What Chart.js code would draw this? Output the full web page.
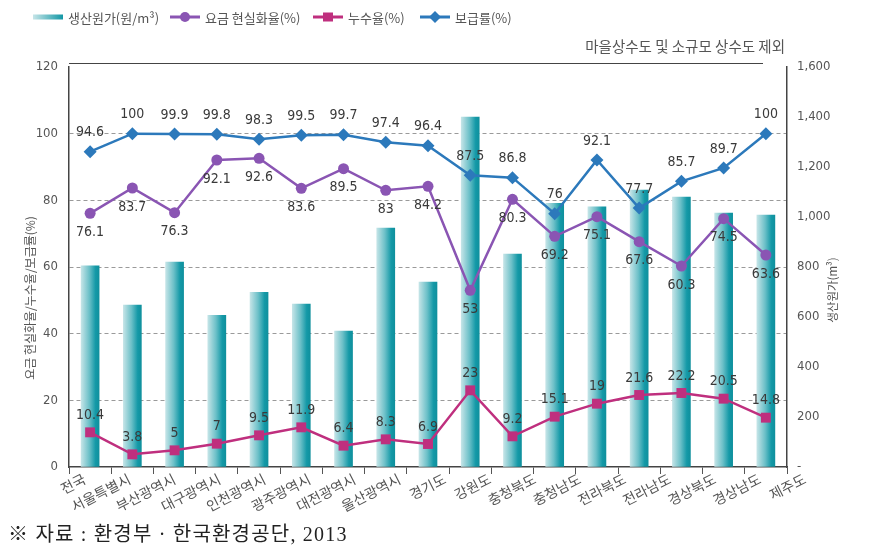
<!DOCTYPE html>
<html><head><meta charset="utf-8">
<script src="https://cdn.jsdelivr.net/npm/chart.js@4.4.1/dist/chart.umd.min.js"></script>
<style>
html,body{margin:0;padding:0;background:#fff;}
#wrap{position:relative;width:871px;height:556px;overflow:hidden;background:#fff;}
#c{position:absolute;left:0;top:0;}
.leg{position:absolute;top:8px;height:18px;display:flex;align-items:center;font:13px 'Noto Sans CJK KR',sans-serif;color:#555;white-space:nowrap;}
.leg svg{margin-right:5px;}
#note{position:absolute;right:86px;top:35px;font:14.5px 'Noto Sans CJK KR',sans-serif;color:#555;white-space:nowrap;}
#src{position:absolute;left:8px;top:518px;font:20px 'Liberation Serif','Noto Sans CJK KR',serif;letter-spacing:1.2px;color:#222;white-space:nowrap;}
</style></head>
<body>
<div id="wrap">
<canvas id="c" width="871" height="556"></canvas>
<div id="legend"></div>
<div id="note">마을상수도 및 소규모 상수도 제외</div>
<div id="src">※ 자료 : 환경부 · 한국환경공단, 2013</div>
</div>
<script>
// ---- data ----
const categories = ['전국','서울특별시','부산광역시','대구광역시','인천광역시','광주광역시','대전광역시','울산광역시','경기도','강원도','충청북도','충청남도','전라북도','전라남도','경상북도','경상남도','제주도'];
const productionCost = [805,648,820,607,699,652,544,956,740,1400,852,1055,1041,1108,1080,1016,1008];
const costRecovery = [76.1,83.7,76.3,92.1,92.6,83.6,89.5,83,84.2,53,80.3,69.2,75.1,67.6,60.3,74.5,63.6];
const leakage = [10.4,3.8,5,7,9.5,11.9,6.4,8.3,6.9,23,9.2,15.1,19,21.6,22.2,20.5,14.8];
const supply = [94.6,100,99.9,99.8,98.3,99.5,99.7,97.4,96.4,87.5,86.8,76,92.1,77.7,85.7,89.7,100];
const leftTicks = [0,20,40,60,80,100,120];
const rightTicks = [0,200,400,600,800,1000,1200,1400,1600];
const seriesNames = ['생산원가(원/m³)','요금 현실화율(%)','누수율(%)','보급률(%)'];
const leftTitle = '요금 현실화율/누수율/보급률(%)';
const rightTitle = '생산원가(m³)';

// ---- styles ----
const C_BLUE = '#2c79bb', C_PURPLE = '#8a55b3', C_PINK = '#bf2f7e';
const BAR_W = 18;

// ---- HTML legend ----
(function(){
  const L = document.getElementById('legend');
  const lefts = [33,170,313,420];
  const syms = [
    `<svg width="30" height="8"><defs><linearGradient id="lg" x1="0" x2="1"><stop offset="0" stop-color="#c6e5e8"/><stop offset="1" stop-color="#1297a5"/></linearGradient></defs><rect x="0" y="1.5" width="30" height="5" fill="url(#lg)"/></svg>`,
    `<svg width="30" height="12"><line x1="0" y1="6" x2="30" y2="6" stroke="${C_PURPLE}" stroke-width="3"/><circle cx="15" cy="6" r="5" fill="${C_PURPLE}"/></svg>`,
    `<svg width="30" height="12"><line x1="0" y1="6" x2="30" y2="6" stroke="${C_PINK}" stroke-width="3"/><rect x="10" y="1.5" width="10" height="9" fill="${C_PINK}"/></svg>`,
    `<svg width="30" height="12"><line x1="0" y1="6" x2="30" y2="6" stroke="${C_BLUE}" stroke-width="3"/><polygon points="15,0 21,6 15,12 9,6" fill="${C_BLUE}"/></svg>`
  ];
  seriesNames.forEach((n,i)=>{
    const d=document.createElement('div'); d.className='leg'; d.style.left=lefts[i]+'px';
    d.innerHTML = syms[i] + '<span>'+n+'</span>';
    L.appendChild(d);
  });
})();

const NUM_FONT = "'DejaVu Sans Condensed','DejaVu Sans',sans-serif";

function barGradient(ctx, x, w){
  const g = ctx.createLinearGradient(x-w/2,0,x+w/2,0);
  g.addColorStop(0,'#c4e4e7'); g.addColorStop(0.45,'#6cc0c8'); g.addColorStop(0.8,'#1499a7'); g.addColorStop(1,'#0f909d');
  return g;
}

const gradPlugin = {
  id:'grad',
  beforeDatasetsDraw(chart){
    chart.data.datasets.forEach((ds,i)=>{
      if(ds.type!=='bar') return;
      chart.getDatasetMeta(i).data.forEach(el=>{
        if (isFinite(el.x) && isFinite(el.width) && el.options && !Object.isFrozen(el.options)) {
          el.options.backgroundColor = barGradient(chart.ctx, el.x, el.width);
        }
      });
    });
  }
};

const labelPlugin = {
  id:'vlabels',
  afterDatasetsDraw(chart){
    const ctx=chart.ctx;
    chart.data.datasets.forEach((ds,i)=>{
      if(!ds.labelGap) return;
      const meta=chart.getDatasetMeta(i);
      ctx.save();
      ctx.font = "14px " + NUM_FONT;
      ctx.fillStyle='#3a3a3a'; ctx.textAlign='center'; ctx.textBaseline='middle';
      meta.data.forEach((el,j)=>{ ctx.fillText(String(ds.data[j]), el.x, el.y + ds.labelGap); });
      ctx.restore();
    });
  }
};

// category labels: drawn from the x scale, slanted, slightly wider spread than the bars (as in the source)
const xLabelPlugin = {
  id:'xlabels',
  afterDraw(chart){
    const {ctx} = chart; const xs = chart.scales.x;
    ctx.save();
    ctx.font = "14px 'Noto Sans CJK KR',sans-serif";
    ctx.fillStyle = '#555'; ctx.textAlign='right'; ctx.textBaseline='middle';
    xs.ticks.forEach((t,i)=>{
      const px = xs.getPixelForTick(i);
      const ax = xs.left - 7 + (px - xs.left) * 1.066;
      ctx.save();
      ctx.translate(ax, xs.top + 11);
      ctx.rotate(-27*Math.PI/180);
      ctx.fillText(xs.getLabelForValue(t.value), 0, 0);
      ctx.restore();
    });
    ctx.restore();
  }
};

const framePlugin = {
  id:'frame',
  afterDraw(chart){
    const {ctx, chartArea:a} = chart;
    ctx.save();
    ctx.strokeStyle='#444'; ctx.lineWidth=1;
    ctx.beginPath(); ctx.moveTo(a.left, a.top-3.5); ctx.lineTo(a.right-24, a.top-3.5); ctx.stroke();
    ctx.fillStyle='#555';
    ctx.font = "12px 'Noto Sans CJK KR',sans-serif";
    ctx.textAlign='center'; ctx.textBaseline='middle';
    ctx.translate(30, 298); ctx.rotate(-Math.PI/2); ctx.fillText(leftTitle,0,0);
    ctx.setTransform(1,0,0,1,0,0);
    ctx.font = "11.5px 'Noto Sans CJK KR',sans-serif";
    ctx.translate(833, 290); ctx.rotate(-Math.PI/2); ctx.fillText(rightTitle,0,0);
    ctx.restore();
  }
};

new Chart(document.getElementById('c'), {
  data: {
    labels: categories,
    datasets: [
      { type:'line', label:seriesNames[3], data:supply, yAxisID:'y', order:1,
        borderColor:C_BLUE, backgroundColor:C_BLUE, borderWidth:2.5, pointStyle:'rectRot', pointRadius:6.5,
        pointBackgroundColor:C_BLUE, pointBorderColor:C_BLUE, pointBorderWidth:0, tension:0, labelGap:-19 },
      { type:'line', label:seriesNames[1], data:costRecovery, yAxisID:'y', order:2,
        borderColor:C_PURPLE, backgroundColor:C_PURPLE, borderWidth:2.5, pointStyle:'circle', pointRadius:5.5,
        pointBackgroundColor:C_PURPLE, pointBorderColor:C_PURPLE, pointBorderWidth:0, tension:0, labelGap:19 },
      { type:'line', label:seriesNames[2], data:leakage, yAxisID:'y', order:3,
        borderColor:C_PINK, backgroundColor:C_PINK, borderWidth:2.5, pointStyle:'rect', pointRadius:7,
        pointBackgroundColor:C_PINK, pointBorderColor:C_PINK, pointBorderWidth:0, tension:0, labelGap:-17 },
      { type:'bar', label:seriesNames[0], data:productionCost, yAxisID:'y1', order:4,
        barThickness:BAR_W, borderWidth:0,
        backgroundColor:(c)=>{
          const xs = c.chart.scales && c.chart.scales.x;
          if (c.type!=='data' || !xs) return '#1a9aa6';
          const cx = xs.getPixelForValue(c.dataIndex);
          if (!isFinite(cx)) return '#1a9aa6';
          return barGradient(c.chart.ctx, cx, BAR_W);
        } }
    ]
  },
  options: {
    responsive:false, animation:false,
    layout:{ padding:{ top:67, left:0, right:0, bottom:0 } },
    plugins:{ legend:{display:false}, tooltip:{enabled:false} },
    scales:{
      x:{
        offset:true,
        grid:{ display:true, drawOnChartArea:false, drawTicks:true, tickLength:7, color:'#555', offset:true },
        border:{ color:'#444', width:1.5 },
        ticks:{ display:false, autoSkip:false },
        afterFit(s){ s.height = 89; }
      },
      y:{
        position:'left', min:leftTicks[0], max:leftTicks[leftTicks.length-1],
        grid:{ drawTicks:false, color:(c)=> (c.tick && c.tick.value>leftTicks[0] && c.tick.value<leftTicks[leftTicks.length-1]) ? '#9a9a9a' : 'rgba(0,0,0,0)', lineWidth:1 },
        border:{ color:'#444', width:1.5, dash:[4,3] },
        ticks:{ stepSize:leftTicks[1]-leftTicks[0], color:'#555', padding:11, font:{ family:NUM_FONT, size:13 } },
        afterFit(s){ s.width = 69; }
      },
      y1:{
        position:'right', min:rightTicks[0], max:rightTicks[rightTicks.length-1],
        grid:{ drawOnChartArea:false, drawTicks:false },
        border:{ color:'#444', width:1.5 },
        ticks:{ stepSize:rightTicks[1]-rightTicks[0], color:'#555', padding:10, font:{ family:NUM_FONT, size:13 },
          callback:(v)=> v===0 ? '-' : v.toLocaleString('en-US') },
        afterFit(s){ s.width = 84; }
      }
    }
  },
  plugins:[gradPlugin, labelPlugin, xLabelPlugin, framePlugin]
});
</script>
</body></html>
